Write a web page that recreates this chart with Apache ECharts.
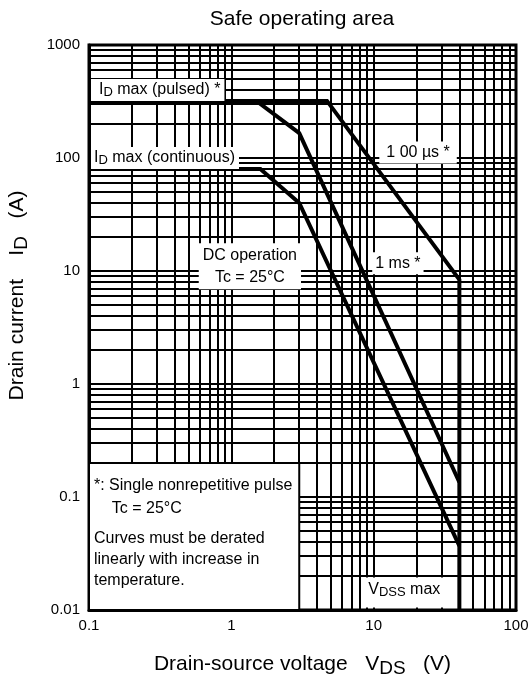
<!DOCTYPE html>
<html>
<head>
<meta charset="utf-8">
<title>Safe operating area</title>
<script src="https://cdn.jsdelivr.net/npm/echarts@6/dist/echarts.min.js"></script>
<style>
  html, body { margin: 0; padding: 0; background: #fff; }
  #chart { width: 530px; height: 682px; }
</style>
</head>
<body>
<div id="chart"></div>
<script>
// Log grid: decade starts and the 2..9 subdivisions inside each decade
const xDecades = [0.1, 1, 10];
const yDecades = [0.01, 0.1, 1, 10, 100];
const minorSteps = [2, 3, 4, 5, 6, 7, 8, 9];

// SOA boundaries, [V_DS (V), I_D (A)]
const pulse100us = [[0.1, 320], [4.7, 320], [40, 8.4], [40, 0.01]];
const pulse1ms = [[0.1, 320], [1.5, 320], [3, 166], [40, 0.135]];
const dcOperation = [[0.1, 80], [1.6, 80], [3, 40], [40, 0.037]];

// Corners of the notes panel, [V_DS, I_D]
const notesPanel = [[0.1, 0.01], [3, 0.2]];

const FONT = '"Liberation Sans", Arial, Helvetica, sans-serif';
const INK = '#000';

const xMinor = xDecades.flatMap(d => minorSteps.map(k => +(d * k).toPrecision(6)));
const yMinor = yDecades.flatMap(d => minorSteps.map(k => +(d * k).toPrecision(6)));

const fmt = v => String(+Number(v).toPrecision(6));

const subStyle = { fontSize: 13, padding: [5, 0, 0, 0], fontFamily: FONT, color: INK };
const nameSub = { fontSize: 19, padding: [8, 0, 0, 0], fontFamily: FONT, color: INK };

function curve(name, data) {
  return {
    name, type: 'line', data, z: 3, symbol: 'none', silent: true,
    lineStyle: { color: INK, width: 4, cap: 'butt', join: 'miter' }
  };
}

function tag(value, text, label) {
  return {
    value,
    label: Object.assign({
      show: true, formatter: text, fontSize: 16, fontFamily: FONT, color: INK,
      opacity: 1, backgroundColor: '#fff', rich: { s: subStyle }
    }, label)
  };
}

const chart = echarts.init(document.getElementById('chart'));

chart.setOption({
  animation: false,
  backgroundColor: '#fff',
  title: {
    text: 'Safe operating area',
    left: 297, top: 4, textAlign: 'center',
    textStyle: { fontSize: 21, fontWeight: 'normal', fontFamily: FONT, color: INK }
  },
  grid: {
    left: 89, right: 14, top: 45, bottom: 72,
    outerBoundsMode: 'none',
    show: true, borderColor: INK, borderWidth: 3, backgroundColor: 'transparent'
  },
  xAxis: {
    type: 'log', logBase: 10, min: 0.1, max: 100,
    name: 'Drain-source voltage   V{s|DS}   (V)',
    nameLocation: 'middle', nameGap: 41, nameMoveOverlap: false,
    nameTextStyle: { fontSize: 21, fontFamily: FONT, color: INK, rich: { s: nameSub } },
    axisLine: { show: true, lineStyle: { color: INK, width: 3 } },
    axisTick: { show: false },
    axisLabel: {
      margin: 8, fontSize: 15, fontFamily: FONT, color: INK,
      showMinLabel: true, showMaxLabel: true, formatter: fmt
    },
    splitLine: { show: true, lineStyle: { color: INK, width: 2 } },
    minorTick: { show: false }, minorSplitLine: { show: false }
  },
  yAxis: {
    type: 'log', logBase: 10, min: 0.01, max: 1000,
    name: 'Drain current    I{s|D}   (A)',
    nameLocation: 'middle', nameGap: 58, nameMoveOverlap: false,
    nameTextStyle: {
      fontSize: 21, fontFamily: FONT, color: INK, padding: [0, 0, 0, 64],
      rich: { s: nameSub }
    },
    axisLine: { show: true, lineStyle: { color: INK, width: 3 } },
    axisTick: { show: false },
    axisLabel: {
      margin: 9, fontSize: 15, fontFamily: FONT, color: INK,
      showMinLabel: true, showMaxLabel: true, formatter: fmt
    },
    splitLine: { show: true, lineStyle: { color: INK, width: 2 } },
    minorTick: { show: false }, minorSplitLine: { show: false }
  },
  series: [
    {
      name: 'grid', type: 'line', data: [], z: 1, silent: true,
      markLine: {
        z: 1, silent: true, symbol: ['none', 'none'], label: { show: false },
        lineStyle: { color: INK, width: 2, type: 'solid', opacity: 1 },
        emphasis: { disabled: true },
        data: xMinor.map(v => ({ xAxis: v })).concat(yMinor.map(v => ({ yAxis: v })))
      }
    },
    {
      name: 'notes panel', type: 'line', data: [], z: 2, silent: true,
      markArea: {
        z: 2, silent: true,
        itemStyle: { color: '#fff', opacity: 1, borderColor: INK, borderWidth: 2 },
        emphasis: { disabled: true },
        data: [[{ coord: notesPanel[0] }, { coord: notesPanel[1] }]]
      }
    },
    curve('100 µs', pulse100us),
    curve('1 ms', pulse1ms),
    curve('DC', dcOperation),
    {
      name: 'labels', type: 'scatter', symbolSize: 0, z: 4, silent: true,
      itemStyle: { opacity: 1 },
      emphasis: { disabled: true },
      data: [
        tag([0.1, 400], 'I{s|D} max (pulsed) *', { position: 'right', distance: 2, padding: [2, 4, 2, 8] }),
        tag([0.1, 100], 'I{s|D} max (continuous)', { position: 'right', distance: 2, padding: [2, 4, 2, 3] }),
        tag([20.5, 112], '1 00 µs *', { position: 'inside', padding: [3, 7, 3, 7] }),
        tag([14.8, 11.7], '1 ms *', { position: 'inside', padding: [3, 3, 3, 3] }),
        tag([1.35, 11], 'DC operation\nTc = 25°C', { position: 'inside', align: 'center', lineHeight: 22, padding: [1, 4, 1, 4] }),
        tag([16.4, 0.0143], 'V{s|DSS} max', { position: 'inside', padding: [3, 4, 9, 4] }),
        tag([0.1, 0.1], '*: Single nonrepetitive pulse\n    Tc = 25°C', { position: 'right', distance: 5, lineHeight: 23, backgroundColor: 'transparent' }),
        tag([0.1, 0.028], 'Curves must be derated\nlinearly with increase in\ntemperature.', { position: 'right', distance: 5, lineHeight: 21, backgroundColor: 'transparent' })
      ]
    }
  ]
});
</script>
</body>
</html>
